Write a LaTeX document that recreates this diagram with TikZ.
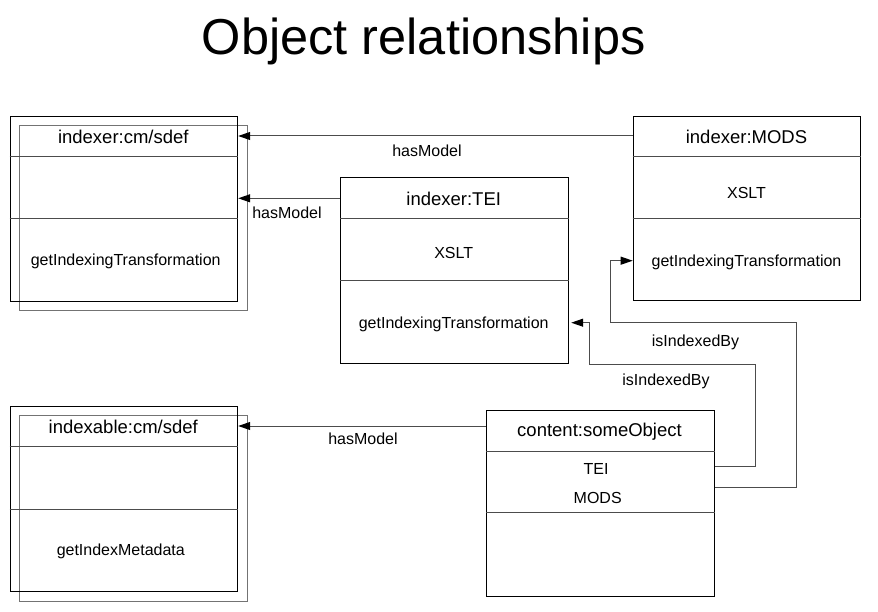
\documentclass[tikz,border=0pt]{standalone}
\usepackage{fontspec}
\setmainfont{Liberation Sans}
\usetikzlibrary{arrows.meta}
\tikzset{>={Triangle[length=12pt,width=8pt,black]}}
\tikzset{
  frame/.style={draw=black,line width=1.2pt,anchor=north west,inner sep=0pt,minimum width=227.5pt,minimum height=185.5pt},
  backframe/.style={frame,draw=black!55,line width=1pt},
  divider/.style={draw=black!70,line width=1pt},
  cname/.style={font=\fontsize{18.5}{20}\selectfont,inner sep=0pt,text height=13.3pt,text depth=0pt},
  member/.style={font=\fontsize{16}{18}\selectfont,inner sep=0pt,text height=11.5pt,text depth=0pt},
  rel/.style={draw=black!70,line width=1pt,->},
}
\begin{document}
\begin{tikzpicture}[x=1pt,y=-1pt,line join=miter]
\useasboundingbox (0,0) rectangle (878,612);
\node[font=\fontsize{50.5}{56}\selectfont,inner sep=0pt,anchor=base] (heading) at (423.7,55) {Object relationships};
% indexer:cm/sdef
\node[backframe] (cmsdefback) at (19.3,125) {};
\node[frame] (cmsdef) at (9.5,115.7) {};
\draw[divider] (cmsdef.west |- 0,156.7) -- (cmsdef.east |- 0,156.7);
\draw[divider] (cmsdef.west |- 0,219) -- (cmsdef.east |- 0,219);
\node[cname] (cmsdefname) at (123.3,137) {indexer:cm/sdef};
\node[member] (cmsdefmeth) at (125.7,260) {getIndexingTransformation};
% indexer:TEI
\node[frame] (tei) at (340,177.3) {};
\draw[divider] (tei.west |- 0,218.3) -- (tei.east |- 0,218.3);
\draw[divider] (tei.west |- 0,281) -- (tei.east |- 0,281);
\node[cname] (teiname) at (453.7,199) {indexer:TEI};
\node[member] (teixslt) at (453.7,253) {XSLT};
\node[member] (teimeth) at (453.7,323) {getIndexingTransformation};
% indexer:MODS
\node[frame,minimum height=184.3pt] (mods) at (632.7,115.7) {};
\draw[divider] (mods.west |- 0,156.7) -- (mods.east |- 0,156.7);
\draw[divider] (mods.west |- 0,218.3) -- (mods.east |- 0,218.3);
\node[cname] (modsname) at (746.5,137) {indexer:MODS};
\node[member] (modsxslt) at (746.5,193) {XSLT};
\node[member] (modsmeth) at (746.5,261) {getIndexingTransformation};
% indexable:cm/sdef
\node[backframe] (idxableback) at (19.3,415) {};
\node[frame] (idxable) at (9.5,405.7) {};
\draw[divider] (idxable.west |- 0,446.7) -- (idxable.east |- 0,446.7);
\draw[divider] (idxable.west |- 0,509) -- (idxable.east |- 0,509);
\node[cname] (idxablename) at (123.3,427) {indexable:cm/sdef};
\node[member] (idxablemeth) at (120.8,550) {getIndexMetadata};
% content:someObject
\node[frame] (obj) at (486,410) {};
\draw[divider] (obj.west |- 0,451) -- (obj.east |- 0,451);
\draw[divider] (obj.west |- 0,512.7) -- (obj.east |- 0,512.7);
\node[cname] (objname) at (599.5,430) {content:someObject};
\node[member] (objtei) at (596,469) {TEI};
\node[member] (objmods) at (597.7,498) {MODS};
% relations
\draw[rel] (mods.west |- 0,136) -- (cmsdef.east |- 0,136);
\node[member] (lblmods) at (427,151) {hasModel};
\draw[rel] (tei.west |- 0,198.3) -- (cmsdef.east |- 0,198.3);
\node[member] (lbltei) at (287,212.7) {hasModel};
\draw[rel] (obj.west |- 0,426) -- (idxable.east |- 0,426);
\node[member] (lblobj) at (363,439) {hasModel};
\draw[rel,shorten >=2.5pt] (obj.east |- 0,466.7) -- (755,466.7) -- (755,364) -- (589.3,364) -- (589.3,322.7) -- (tei.east |- 0,322.7);
\node[member] (lblteiidx) at (666,380) {isIndexedBy};
\draw[rel] (obj.east |- 0,487.7) -- (796,487.7) -- (796,322.7) -- (610.5,322.7) -- (610.5,260.7) -- (mods.west |- 0,260.7);
\node[member] (lblmodsidx) at (695.5,340.7) {isIndexedBy};
\end{tikzpicture}
\end{document}
